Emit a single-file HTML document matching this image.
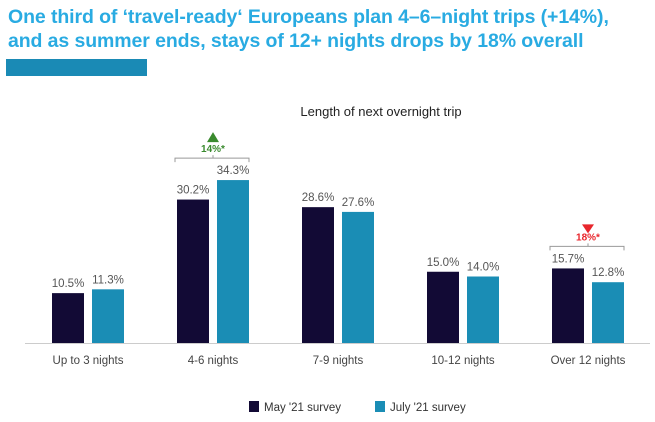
<!DOCTYPE html>
<html><head><meta charset="utf-8"><style>
body{margin:0;width:655px;height:422px;background:#fff;overflow:hidden;font-family:"Liberation Sans Narrow","Liberation Sans",sans-serif;}
.t{position:absolute;left:8px;font-weight:bold;color:#29abe2;font-size:19.5px;white-space:nowrap;letter-spacing:-0.1px}
</style></head><body>
<div class="t" style="top:6px">One third of ‘travel-ready‘ Europeans plan 4–6–night trips (+14%),</div>
<div class="t" style="top:30px">and as summer ends, stays of 12+ nights drops by 18% overall</div>
<div style="position:absolute;left:6px;top:59px;width:141px;height:17px;background:#1a8ab5"></div>
<svg id="c" width="655" height="422" style="position:absolute;left:0;top:0"></svg>
<script>
const categories=["Up to 3 nights","4-6 nights","7-9 nights","10-12 nights","Over 12 nights"];
const may=[10.5,30.2,28.6,15.0,15.7];
const july=[11.3,34.3,27.6,14.0,12.8];
const seriesNames=["May '21 survey","July '21 survey"];
const colors=["#120a35","#1a8db5"];
const svg=document.getElementById('c');
const NS="http://www.w3.org/2000/svg";
const base=343,scale=4.75,bw=32;
const y=v=>base-v*scale;
const gx=i=>88+i*125;
function mk(t,a){const e=document.createElementNS(NS,t);for(const k in a)e.setAttribute(k,a[k]);svg.appendChild(e);return e;}
const title=mk('text',{x:381,y:116,'text-anchor':'middle','font-size':13,fill:'#222','font-family':'"Liberation Sans Narrow","Liberation Sans",sans-serif'});title.textContent="Length of next overnight trip";


const ax=mk('line',{x1:25,x2:650,y1:base+0.5,y2:base+0.5,stroke:'#ccc'});


[may,july].forEach((s,si)=>{s.forEach((v,i)=>{
 const x=gx(i)+(si?4:-36);
 const r=mk('rect',{x:x,y:y(v),width:bw,height:v*scale,fill:colors[si]});
 
 
 const t=mk('text',{x:x+bw/2,y:y(v)-6,'text-anchor':'middle','font-size':11.5,fill:'#555'});t.textContent=v.toFixed(1)+'%';
 
 
});});
categories.forEach((c,i)=>{const t=mk('text',{x:gx(i),y:364,'text-anchor':'middle','font-size':11.5,fill:'#444'});t.textContent=c;
 
 });
function ann(i,txt,col,up){
 const cx=gx(i),top=Math.min(y(may[i]),y(july[i]))-22;
 mk('path',{d:`M${cx-38},${top+4}V${top}H${cx+36}V${top+4}M${cx},${top}v-3`,stroke:'#999',fill:'none'});
 const t=mk('text',{x:cx,y:top-6,'text-anchor':'middle','font-size':10,'font-weight':'bold',fill:col});t.textContent=txt;
 
 
 const ty=top-26;
 const p=mk('path',{d:up?`M${cx-6},${ty+10}L${cx+6},${ty+10}L${cx},${ty}Z`:`M${cx-6},${ty+4}L${cx+6},${ty+4}L${cx},${ty+13}Z`,fill:col});
 
 
}
ann(1,'14%*','#3a8a2e',true);
ann(4,'18%*','#e8262c',false);
seriesNames.forEach((n,i)=>{const x=i?375:249;
 const r=mk('rect',{x:x,y:401,width:10,height:11,fill:colors[i]});
 
 
 const t=mk('text',{x:x+15,y:411,'font-size':11.5,fill:'#333'});t.textContent=n;
 
 });
</script>
</body></html>
